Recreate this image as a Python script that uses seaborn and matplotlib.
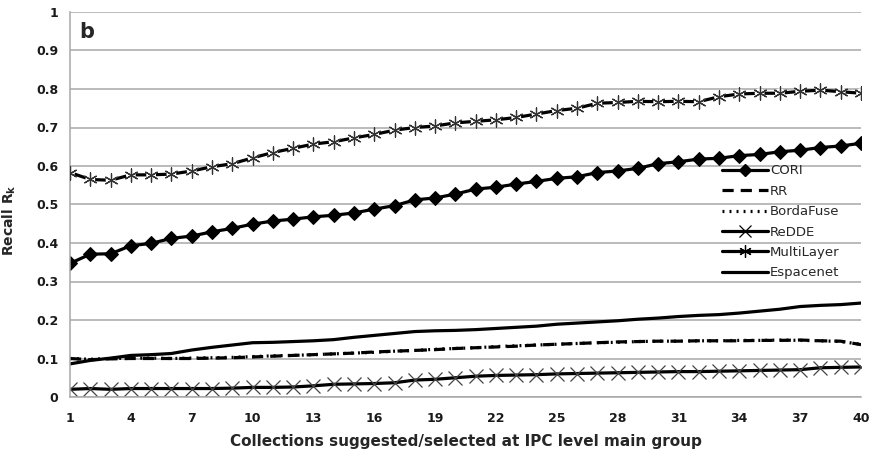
import numpy as np
import pandas as pd
import matplotlib
matplotlib.use("Agg")
import matplotlib.pyplot as plt
from matplotlib.ticker import FuncFormatter
from matplotlib.lines import Line2D
import seaborn as sns

# Number of collections suggested/selected (x axis)
collections = list(range(1, 41))

cori = [0.347, 0.371, 0.372, 0.393, 0.399, 0.412, 0.418, 0.429, 0.438, 0.449,
        0.457, 0.462, 0.468, 0.472, 0.478, 0.488, 0.497, 0.512, 0.517, 0.527,
        0.540, 0.545, 0.553, 0.560, 0.568, 0.572, 0.583, 0.587, 0.594, 0.606,
        0.611, 0.618, 0.620, 0.627, 0.630, 0.637, 0.641, 0.648, 0.652, 0.659]

rr = [0.100, 0.097, 0.099, 0.100, 0.100, 0.100, 0.100, 0.101, 0.102, 0.104,
      0.106, 0.108, 0.110, 0.112, 0.114, 0.117, 0.119, 0.121, 0.123, 0.126,
      0.128, 0.130, 0.132, 0.135, 0.137, 0.139, 0.141, 0.143, 0.144, 0.145,
      0.145, 0.146, 0.146, 0.146, 0.147, 0.147, 0.148, 0.146, 0.145, 0.136]

bordafuse = [0.100, 0.098, 0.100, 0.101, 0.101, 0.100, 0.101, 0.102, 0.103, 0.105,
             0.107, 0.108, 0.110, 0.112, 0.114, 0.116, 0.119, 0.121, 0.124, 0.126,
             0.128, 0.131, 0.133, 0.135, 0.137, 0.139, 0.141, 0.142, 0.144, 0.145,
             0.145, 0.146, 0.146, 0.147, 0.147, 0.148, 0.147, 0.146, 0.144, 0.137]

redde = [0.020, 0.022, 0.020, 0.022, 0.022, 0.022, 0.022, 0.022, 0.023, 0.025,
         0.025, 0.026, 0.029, 0.033, 0.034, 0.035, 0.037, 0.044, 0.046, 0.050,
         0.054, 0.056, 0.057, 0.058, 0.060, 0.061, 0.062, 0.063, 0.064, 0.065,
         0.066, 0.066, 0.067, 0.068, 0.069, 0.070, 0.071, 0.076, 0.077, 0.078]

multilayer = [0.583, 0.565, 0.563, 0.577, 0.577, 0.579, 0.587, 0.598, 0.606, 0.621,
              0.635, 0.646, 0.657, 0.663, 0.673, 0.682, 0.693, 0.700, 0.704, 0.712,
              0.716, 0.720, 0.726, 0.735, 0.744, 0.750, 0.763, 0.765, 0.768, 0.767,
              0.768, 0.767, 0.780, 0.787, 0.789, 0.789, 0.794, 0.797, 0.793, 0.789]

espacenet = [0.086, 0.095, 0.101, 0.108, 0.110, 0.113, 0.122, 0.129, 0.135, 0.141,
             0.142, 0.144, 0.146, 0.149, 0.155, 0.160, 0.165, 0.170, 0.172, 0.173,
             0.175, 0.178, 0.181, 0.184, 0.189, 0.192, 0.195, 0.198, 0.202, 0.205,
             0.209, 0.212, 0.214, 0.218, 0.223, 0.228, 0.235, 0.238, 0.240, 0.244]

y_ticks = [0, 0.1, 0.2, 0.3, 0.4, 0.5, 0.6, 0.7, 0.8, 0.9, 1]
x_tick_labels = list(range(1, 41, 3))
series_names = ["CORI", "RR", "BordaFuse", "ReDDE", "MultiLayer", "Espacenet"]

sns.set_theme(style="white")
plt.rcParams["font.family"] = ["DejaVu Sans"]
plt.rcParams["mathtext.fontset"] = "dejavusans"

GRID = "#a8a8a8"
INK = "black"
LW = 2.3
ASTERISK = (6, 2, 0)
RR_DASH = [3.5, 2.2]
BF_DOT = [0.6, 1.6]

fig = plt.figure(figsize=(8.74, 4.57), dpi=100)
ax = fig.add_axes([70 / 874, 1 - 397 / 457, 791 / 874, 385 / 457])

# CORI: solid with filled diamonds
sns.lineplot(x=collections, y=cori, ax=ax, color=INK, lw=LW, marker="D",
             markersize=7, markeredgecolor=INK, legend=False)
# RR: long dashes
sns.lineplot(x=collections, y=rr, ax=ax, color=INK, lw=LW, legend=False)
ax.lines[-1].set_dashes(RR_DASH)
# BordaFuse: dotted
sns.lineplot(x=collections, y=bordafuse, ax=ax, color=INK, lw=LW, legend=False)
ax.lines[-1].set_dashes(BF_DOT)
# ReDDE: solid with thin x markers
sns.lineplot(x=collections, y=redde, ax=ax, color=INK, lw=LW, marker="x",
             markersize=10, markeredgewidth=0.9, markeredgecolor="#444444",
             legend=False)
# MultiLayer: solid with asterisks cut out of the line
sns.lineplot(x=collections, y=multilayer, ax=ax, color=INK, lw=LW, legend=False)
sns.scatterplot(x=collections, y=multilayer, ax=ax, marker="o", s=50,
                color="white", edgecolor="none", zorder=3, legend=False)
sns.scatterplot(x=collections, y=multilayer, ax=ax, marker=ASTERISK, s=90,
                color="#333333", linewidth=0.9, zorder=4, legend=False)
# Espacenet: plain solid line
sns.lineplot(x=collections, y=espacenet, ax=ax, color=INK, lw=LW, legend=False)

handles = [
    Line2D([], [], color=INK, lw=LW, marker="D", markersize=6),
    Line2D([], [], color=INK, lw=LW, dashes=RR_DASH),
    Line2D([], [], color=INK, lw=LW, dashes=BF_DOT),
    Line2D([], [], color=INK, lw=LW, marker="x", markersize=9,
           markeredgewidth=0.9),
    Line2D([], [], color=INK, lw=LW, marker=ASTERISK, markersize=9,
           markeredgewidth=0.9),
    Line2D([], [], color=INK, lw=LW),
]
ax.legend(handles, series_names, loc="upper left",
          bbox_to_anchor=(0.824, 0.604), frameon=False, fontsize=9.5,
          handlelength=3.5, handletextpad=0.15, labelspacing=0.56,
          borderpad=0, borderaxespad=0)

ax.set_xlim(1, 40)
ax.set_ylim(0, 1)
ax.set_yticks(y_ticks)
ax.yaxis.set_major_formatter(FuncFormatter(lambda v, p: f"{v:g}"))
ax.set_xticks(x_tick_labels)
ax.set_xticks(collections, minor=True)

ax.grid(axis="y", color=GRID, lw=1.1)
ax.set_axisbelow(True)
for side in ["top", "right"]:
    ax.spines[side].set_visible(False)
for side in ["left", "bottom"]:
    ax.spines[side].set_color(GRID)
    ax.spines[side].set_linewidth(1.1)

ax.tick_params(axis="both", which="both", direction="out", length=5,
               width=1.1, color=GRID, labelsize=9, labelcolor="#1a1a1a")
ax.tick_params(axis="x", which="major", pad=6)
for lab in ax.get_xticklabels() + ax.get_yticklabels():
    lab.set_fontweight("bold")

ax.set_xlabel("Collections suggested/selected at IPC level main group",
              fontsize=11, fontweight="bold", labelpad=6)
ax.set_ylabel(r"Recall R$_\mathbf{k}$", fontsize=10, fontweight="bold")
ax.yaxis.set_label_coords(-0.066, 0.46)

ax.text(0.012, 0.975, "b", transform=ax.transAxes, fontsize=15,
        fontweight="bold", va="top", ha="left")

fig.savefig("out.png", dpi=100)
